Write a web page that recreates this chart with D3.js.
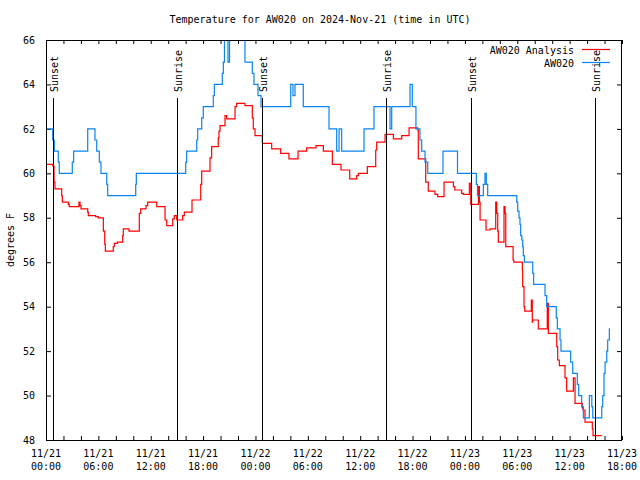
<!DOCTYPE html>
<html>
<head>
<meta charset="utf-8">
<script src="https://cdn.jsdelivr.net/npm/d3@7"></script>
<style>
  html, body { margin: 0; padding: 0; background: #ffffff; }
  svg { display: block; }
  text { font-family: "DejaVu Sans Mono", monospace; font-size: 10px; fill: #000; }
</style>
</head>
<body>
<svg id="chart" width="640" height="480"></svg>
<script>
// ---------------- DATA ----------------
// Time is expressed as hours after 2024-11-21 00:00 UTC
const chartTitle = "Temperature for AW020 on 2024-Nov-21 (time in UTC)";
const yLabel = "degrees F";
const seriesNames = ["AW020 Analysis", "AW020"];

// AW020 Analysis (red) — step values
const analysisHours = [0, 0.77, 0.92, 1.03, 1.80, 1.87, 2.56, 2.67, 3.78, 3.90, 4.01, 4.78, 4.85, 5.69, 5.99,
  6.57, 6.73, 6.80, 7.71, 7.83, 8.17, 8.79, 8.86, 9.51, 10.69, 10.85, 11.46, 11.65, 12.69, 13.64, 13.83,
  14.52, 14.70, 14.98, 15.66, 15.85, 16.73, 17.73, 17.84, 18.79, 18.98, 19.74, 19.82, 19.94, 20.51, 20.70,
  21.66, 21.85, 22.80, 23.64, 23.75, 23.95, 24.79, 25.86, 26.89, 27.84, 28.88, 29.87, 30.94, 31.78, 32.81,
  33.80, 34.80, 35.60, 35.79, 36.82, 37.78, 37.89, 38.85, 39.80, 40.76, 41.60, 42.59, 42.66, 43.51, 43.80,
  44.57, 44.88, 45.61, 46.68, 46.84, 47.63, 47.82, 48.51, 48.67, 49.55, 49.66, 49.74, 50.42, 50.88, 51.53,
  51.65, 51.76, 51.83, 52.48, 52.60, 52.68, 53.52, 53.60, 54.58, 54.62, 54.77, 54.85, 55.61, 55.72, 55.77,
  56.41, 57.44, 57.56, 58.52, 58.63, 58.82, 59.47, 59.66, 60.43, 60.62, 61.45, 61.53, 61.76, 62.60, 62.68, 63.67];
const analysisTemps = [60.4, 60.33, 59.6, 59.3, 59.0, 58.7, 58.6, 58.5, 58.7, 58.55, 58.4, 58.25, 58.1, 58.05, 58.0,
  57.4, 56.8, 56.5, 56.7, 56.85, 56.9, 57.2, 57.5, 57.4, 58.2, 58.4, 58.55, 58.7, 58.5, 57.9, 57.65,
  57.95, 58.1, 57.9, 58.1, 58.25, 58.8, 59.5, 60.1, 60.7, 61.2, 61.6, 61.9, 62.15, 62.6, 62.45,
  63.0, 63.15, 63.05, 62.5, 62.0, 61.7, 61.35, 61.1, 60.9, 60.65, 61.0, 61.15, 61.25, 61.0, 60.4,
  60.15, 59.75, 59.9, 60.0, 60.3, 61.05, 61.4, 61.75, 61.55, 61.7, 62.05, 61.95, 60.65, 59.6, 59.2,
  59.05, 58.95, 59.6, 59.4, 59.25, 59.1, 59.05, 59.55, 58.6, 59.4, 58.7, 57.9, 57.45, 57.5, 58.7,
  58.2, 57.4, 56.9, 58.5, 58.2, 56.7, 56.1, 56.0, 55.65, 54.9, 54.0, 53.8, 54.3, 53.3, 53.4,
  53.0, 54.15, 52.8, 52.2, 51.6, 51.35, 50.8, 50.2, 50.8, 49.65, 49.45, 49.35, 48.8, 48.5, 48.2, 48.2];

// AW020 observations (blue) — step values
const obsHours = [0, 0.77, 0.95, 1.41, 1.52, 3.01, 3.17, 4.78, 5.61, 5.81, 6.11, 6.30, 6.96, 7.07, 10.28, 10.35,
  16.01, 16.12, 17.27, 17.38, 17.84, 18.02, 19.17, 19.29, 20.20, 20.32, 20.45, 20.85, 21.03, 22.80, 23.64,
  23.83, 24.29, 24.64, 28.04, 28.30, 28.53, 29.48, 32.43, 33.31, 33.58, 33.88, 36.44, 37.58, 39.42, 39.61,
  41.71, 41.97, 42.39, 42.85, 43.05, 43.43, 43.74, 45.49, 47.15, 49.31, 49.44, 50.11, 50.30, 50.45, 50.61,
  53.94, 54.05, 54.20, 54.31, 54.39, 54.51, 54.62, 54.69, 54.81, 55.77, 55.88, 57.18, 57.37, 58.47, 58.59,
  58.90, 59.01, 60.12, 60.35, 60.88, 61.04, 61.38, 61.57, 62.26, 62.54, 62.65, 63.68, 63.79, 63.94, 64.06,
  64.25, 64.36, 64.55, 64.60];
const obsTemps = [62, 61.5, 61, 60.5, 60, 60.5, 61, 62, 61.5, 61, 60.5, 60, 59.5, 59, 59.5, 60,
  60.5, 61, 61.5, 62, 62.5, 63, 63.5, 64, 64.5, 65, 66.5, 65, 66.5, 65, 64.5,
  64, 63.5, 63, 64, 63.5, 64, 63, 62, 61, 62, 61, 62, 63, 62, 63,
  64, 63, 62, 61.5, 61, 60.5, 60, 61, 60, 59.5, 59, 59.5, 60, 59.5, 59,
  58.7, 58.3, 58, 57.7, 57.2, 57, 56.7, 56.3, 56, 55.5, 55, 54.5, 54, 53.5, 53,
  52.5, 52, 51.5, 51, 50.5, 50, 49.5, 49, 50, 49.5, 49, 49.5, 50, 51, 51.5,
  52, 52.5, 53, 53];

// Sunrise / sunset markers (hours after start)
const markerHours = [0.84, 15.05, 24.80, 39.00, 48.74, 62.95];
const markerLabels = ["Sunset", "Sunrise", "Sunset", "Sunrise", "Sunset", "Sunrise"];

// Axis settings
const xStartUTC = Date.UTC(2024, 10, 21, 0, 0);
const xEndHours = 66;
const yDomain = [48, 66];
const yTickValues = [48, 50, 52, 54, 56, 58, 60, 62, 64, 66];
const xTickHours = d3.range(0, 67, 2);
const xLabelHours = d3.range(0, 67, 6);

// ---------------- DRAW ----------------
const svg = d3.select("#chart");
const W = 640, H = 480;
const m = { left: 46, right: 18, top: 40, bottom: 40 };
const toDate = h => new Date(xStartUTC + h * 3600e3);

const x = d3.scaleUtc().domain([toDate(0), toDate(xEndHours)]).range([m.left, W - m.right]);
const y = d3.scaleLinear().domain(yDomain).range([H - m.bottom, m.top]);

svg.append("rect").attr("width", W).attr("height", H).attr("fill", "#fff");

svg.append("defs").append("clipPath").attr("id", "plotclip")
  .append("rect").attr("x", m.left).attr("y", m.top)
  .attr("width", W - m.left - m.right).attr("height", H - m.top - m.bottom);

// Title
svg.append("text").attr("x", 320).attr("y", 23).attr("text-anchor", "middle").text(chartTitle);

// Y label
svg.append("text").attr("transform", "translate(14,240) rotate(-90)")
  .attr("text-anchor", "middle").text(yLabel);

// Axes ticks (inward)
const tickDates = xTickHours.map(toDate);
svg.append("g").attr("transform", `translate(0,${H - m.bottom})`)
  .call(d3.axisBottom(x).tickValues(tickDates).tickSize(-4).tickFormat(""))
  .call(g => g.select(".domain").remove())
  .selectAll("line").attr("stroke", "#000");
svg.append("g").attr("transform", `translate(0,${m.top})`)
  .call(d3.axisTop(x).tickValues(tickDates).tickSize(-4).tickFormat(""))
  .call(g => g.select(".domain").remove())
  .selectAll("line").attr("stroke", "#000");
svg.append("g").attr("transform", `translate(${m.left},0)`)
  .call(d3.axisLeft(y).tickValues(yTickValues).tickSize(-5).tickPadding(11).tickFormat(d3.format("d")))
  .call(g => g.select(".domain").remove())
  .call(g => g.selectAll("text").attr("font-family", "DejaVu Sans Mono, monospace").attr("font-size", 10).attr("fill", "#000"))
  .selectAll("line").attr("stroke", "#000");
svg.append("g").attr("transform", `translate(${W - m.right},0)`)
  .call(d3.axisRight(y).tickValues(yTickValues).tickSize(-5).tickFormat(""))
  .call(g => g.select(".domain").remove())
  .selectAll("line").attr("stroke", "#000");

// X tick labels (two lines)
const fmtDay = d3.utcFormat("%m/%d"), fmtTime = d3.utcFormat("%H:%M");
const xl = svg.append("g");
xLabelHours.forEach(h => {
  const d = toDate(h);
  const t = xl.append("text").attr("text-anchor", "middle");
  t.append("tspan").attr("x", x(d)).attr("y", 457).text(fmtDay(d));
  t.append("tspan").attr("x", x(d)).attr("y", 470).text(fmtTime(d));
});

// Series lines
const line = d3.line().curve(d3.curveStepAfter).x(d => x(toDate(d[0]))).y(d => y(d[1]));
const plot = svg.append("g").attr("clip-path", "url(#plotclip)");
const redData = analysisHours.map((h, i) => [h, analysisTemps[i]]);
const blueData = obsHours.map((h, i) => [h, obsTemps[i]]);
plot.append("path").attr("d", line(redData)).attr("fill", "none").attr("stroke", "#ff0000").attr("stroke-width", 1.2);
plot.append("path").attr("d", line(blueData)).attr("fill", "none").attr("stroke", "#0a84f0").attr("stroke-width", 1.2);

// Sunrise / sunset markers
markerHours.forEach((h, i) => {
  const xp = Math.round(x(toDate(h))) + 0.5;
  svg.append("line").attr("x1", xp).attr("x2", xp).attr("y1", 98).attr("y2", H - m.bottom)
    .attr("stroke", "#000").attr("stroke-width", 1);
  svg.append("text").attr("transform", `translate(${xp + 4.5},92) rotate(-90)`)
    .attr("text-anchor", "start").text(markerLabels[i]);
});

// Frame
svg.append("rect").attr("x", m.left + 0.5).attr("y", m.top + 0.5)
  .attr("width", W - m.left - m.right - 1).attr("height", H - m.top - m.bottom)
  .attr("fill", "none").attr("stroke", "#000").attr("stroke-width", 1);

// Legend
const legendColors = ["#ff0000", "#0a84f0"];
seriesNames.forEach((name, i) => {
  const ly = 50 + i * 13;
  svg.append("text").attr("x", 574).attr("y", ly + 4).attr("text-anchor", "end").text(name);
  svg.append("line").attr("x1", 582).attr("x2", 610).attr("y1", ly - 0.5).attr("y2", ly - 0.5)
    .attr("stroke", legendColors[i]).attr("stroke-width", 1.2);
});
</script>
</body>
</html>
